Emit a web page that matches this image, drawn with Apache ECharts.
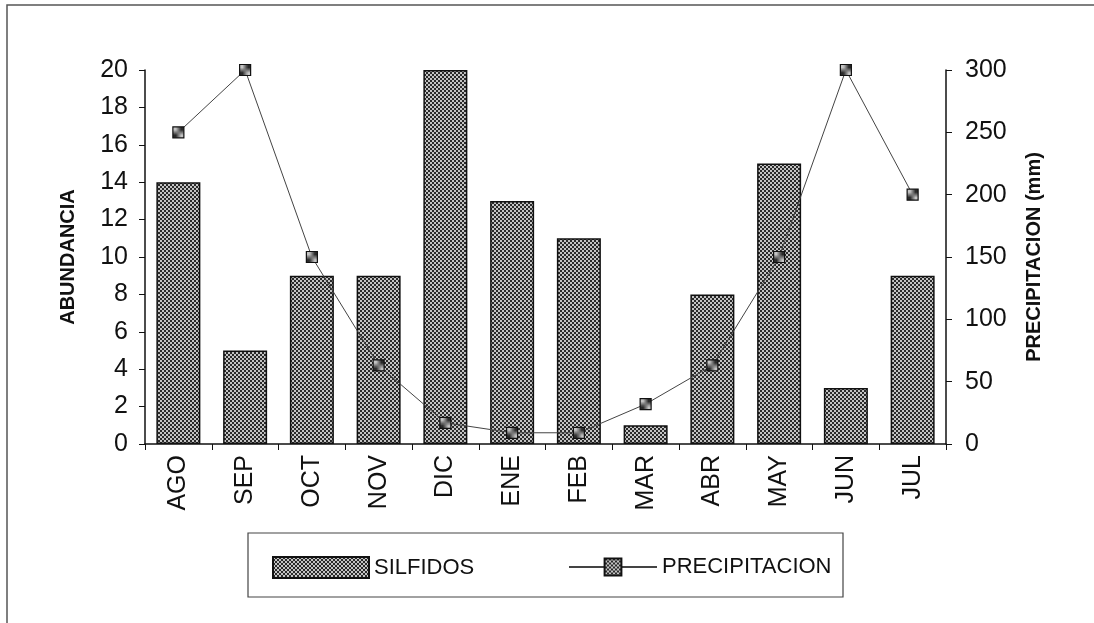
<!DOCTYPE html>
<html>
<head>
<meta charset="utf-8">
<script src="https://cdn.jsdelivr.net/npm/echarts@6/dist/echarts.min.js"></script>
<style>html,body{margin:0;padding:0;background:#fff}#c{width:1094px;height:623px}</style>
</head>
<body>
<div id="c"></div>
<script>
const categories = ['AGO','SEP','OCT','NOV','DIC','ENE','FEB','MAR','ABR','MAY','JUN','JUL'];
const silfidos = [14, 5, 9, 9, 20, 13, 11, 1, 8, 15, 3, 9];
const precipitacion = [250, 300, 150, 63, 17, 9, 9, 32, 63, 150, 300, 200];
const leftAxisName = 'ABUNDANCIA';
const rightAxisName = 'PRECIPITACION (mm)';

function makePattern() {
  const c = document.createElement('canvas');
  c.width = 4; c.height = 4;
  const g = c.getContext('2d');
  g.fillStyle = '#2a2a2a'; g.fillRect(0, 0, 4, 4);
  g.fillStyle = '#c4c4c4';
  g.fillRect(0, 0, 2, 2);
  g.fillRect(2, 2, 2, 2);
  return { image: c, repeat: 'repeat' };
}
const pattern = makePattern();
const narrow = '"Liberation Sans Narrow", "Liberation Sans", Arial, sans-serif';
const sans = '"Liberation Sans", Arial, sans-serif';

const chart = echarts.init(document.getElementById('c'), null, { renderer: 'canvas' });
chart.setOption({
  animation: false,
  backgroundColor: '#fff',
  grid: { left: 145, right: 148, top: 70, bottom: 179, containLabel: false },
  legend: [
    { data: [{ name: 'SILFIDOS', icon: 'rect' }], left: 267, top: 551, itemWidth: 96, itemHeight: 21,
      textStyle: { fontFamily: narrow, fontSize: 22, color: '#111' } },
    { data: ['PRECIPITACION'], left: 563, top: 551, itemWidth: 88, itemHeight: 21,
      textStyle: { fontFamily: narrow, fontSize: 22, color: '#111' } }
  ],
  xAxis: {
    type: 'category',
    data: categories,
    axisLine: { lineStyle: { color: '#111', width: 1.5 } },
    axisTick: { show: true, interval: 0, length: 6, lineStyle: { color: '#111' } },
    axisLabel: { rotate: 90, interval: 0, margin: 11, fontFamily: narrow, fontSize: 25, color: '#111' }
  },
  yAxis: [
    { type: 'value', min: 0, max: 20, interval: 2, position: 'left',
      name: leftAxisName, nameLocation: 'middle', nameRotate: 90, nameGap: 67,
      nameTextStyle: { fontFamily: sans, fontWeight: 'bold', fontSize: 20, color: '#111' },
      axisLine: { show: true, lineStyle: { color: '#111', width: 1.5 } },
      axisTick: { show: true, length: 6, lineStyle: { color: '#111' } },
      splitLine: { show: false },
      axisLabel: { margin: 17, fontFamily: sans, fontSize: 25, color: '#111' } },
    { type: 'value', min: 0, max: 300, interval: 50, position: 'right',
      name: rightAxisName, nameLocation: 'middle', nameRotate: 90, nameGap: 78,
      nameTextStyle: { fontFamily: sans, fontWeight: 'bold', fontSize: 20, color: '#111' },
      axisLine: { show: true, lineStyle: { color: '#111', width: 1.5 } },
      axisTick: { show: true, length: 6, lineStyle: { color: '#111' } },
      splitLine: { show: false },
      axisLabel: { margin: 19, fontFamily: sans, fontSize: 25, color: '#111' } }
  ],
  series: [
    { name: 'SILFIDOS', type: 'bar', yAxisIndex: 0, data: silfidos, barWidth: 44,
      itemStyle: { color: pattern, borderColor: '#111', borderWidth: 1.5 } },
    { name: 'PRECIPITACION', type: 'line', yAxisIndex: 1, data: precipitacion,
      symbol: 'rect', symbolSize: 11,
      lineStyle: { color: '#444', width: 1 },
      itemStyle: { color: pattern, borderColor: '#111', borderWidth: 1.2 } }
  ],
  graphic: [
    { type: 'polyline', shape: { points: [[7, 623], [7, 5], [1094, 5]] }, style: { stroke: '#555', lineWidth: 1.5, fill: null } },
    { type: 'rect', shape: { x: 248, y: 533, width: 595, height: 64 }, style: { stroke: '#444', lineWidth: 1.2, fill: null }, z: -1 }
  ]
});
</script>
</body>
</html>
